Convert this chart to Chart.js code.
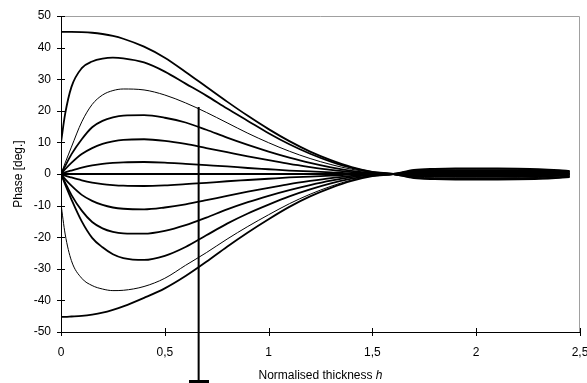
<!DOCTYPE html>
<html>
<head>
<meta charset="utf-8">
<script src="https://cdn.jsdelivr.net/npm/chart.js@4.4.0/dist/chart.umd.min.js"></script>
<style>
  html, body { margin: 0; padding: 0; background: #fff; }
</style>
</head>
<body>
<canvas id="phase-chart" width="587" height="383"></canvas>
<script>
// Phase vs normalised thickness

const hValues = [0, 0.02, 0.05, 0.1, 0.15, 0.2, 0.25, 0.3, 0.4, 0.5, 0.6, 0.7, 0.8, 0.9, 1.0,
  1.1, 1.2, 1.3, 1.4, 1.5, 1.6, 1.7, 1.8, 1.9, 2.0, 2.1, 2.2, 2.3, 2.4, 2.45];

const phaseP45 = [45, 45, 45, 44.9, 44.7, 44.3, 43.7, 42.8, 40.3, 36.8, 32.3, 27.6, 22.9, 18.4, 14.2,
  10.4, 7.1, 4.4, 2.2, 0.7, 0, -1.3, -1.65, -1.75, -1.75, -1.75, -1.7, -1.55, -1.2, -0.95];
const phaseP37 = [10, 19, 27.5, 33.5, 35.6, 36.5, 36.8, 36.6, 35.3, 32.4, 28.6, 24.8, 20.7, 16.8, 12.9,
  9.4, 6.4, 3.9, 1.9, 0.6, 0, -1.15, -1.45, -1.55, -1.55, -1.55, -1.5, -1.35, -1.05, -0.85];
const phaseP27 = [0, 3.5, 8.5, 16.5, 22, 25, 26.4, 26.9, 26.6, 25, 22.5, 19.5, 16.2, 12.9, 9.9,
  7.2, 4.9, 3, 1.5, 0.5, 0, -0.95, -1.2, -1.25, -1.25, -1.25, -1.2, -1.1, -0.85, -0.7];
const phaseP19 = [0, 2.5, 6.2, 11, 14.8, 16.8, 17.9, 18.5, 18.6, 17.8, 16.3, 14, 11.5, 9.2, 7.1,
  5.2, 3.5, 2.1, 1, 0.3, 0, -0.7, -0.85, -0.9, -0.9, -0.9, -0.87, -0.8, -0.6, -0.5];
const phaseP11 = [0, 1.5, 3.5, 6.3, 8.2, 9.5, 10.3, 10.8, 11, 10.5, 9.5, 8.2, 6.9, 5.6, 4.4,
  3.2, 2.2, 1.3, 0.6, 0.2, 0, -0.4, -0.5, -0.55, -0.55, -0.55, -0.53, -0.48, -0.37, -0.3];
const phaseP4 = [0, 0.5, 1.1, 2, 2.7, 3.2, 3.5, 3.7, 3.8, 3.6, 3.2, 2.8, 2.4, 1.9, 1.5,
  1.1, 0.8, 0.5, 0.2, 0.1, 0, -0.15, -0.2, -0.2, -0.2, -0.2, -0.2, -0.18, -0.14, -0.11];
const phase0 = [0, 0, 0, 0, 0, 0, 0, 0, 0, 0, 0, 0, 0, 0, 0,
  0, 0, 0, 0, 0, 0, 0, 0, 0, 0, 0, 0, 0, 0, 0];
const phaseN4 = [0, -0.5, -1.1, -2, -2.7, -3.2, -3.5, -3.7, -3.8, -3.6, -3.2, -2.8, -2.3, -1.9, -1.5,
  -1.1, -0.8, -0.5, -0.2, -0.1, 0, 0.15, 0.2, 0.2, 0.2, 0.2, 0.2, 0.18, 0.14, 0.11];
const phaseN11 = [0, -1.6, -3.7, -6.6, -8.5, -9.8, -10.6, -11, -11.2, -10.6, -9.6, -8.3, -6.9, -5.6, -4.4,
  -3.2, -2.2, -1.3, -0.6, -0.2, 0, 0.4, 0.5, 0.55, 0.55, 0.55, 0.53, 0.48, 0.37, 0.3];
const phaseN19 = [0, -2.7, -6.6, -11.6, -15.2, -17.2, -18.3, -18.8, -18.9, -18, -16.2, -13.8, -11.2, -8.9, -6.9,
  -5.1, -3.5, -2.1, -1, -0.3, 0, 0.7, 0.85, 0.9, 0.9, 0.9, 0.87, 0.8, 0.6, 0.5];
const phaseN27 = [0, -3.3, -8, -15, -20.2, -23.2, -25.4, -26.6, -27.2, -25.9, -23.1, -19.4, -15.7, -12.5, -9.7,
  -7.1, -4.9, -3, -1.5, -0.5, 0, 0.95, 1.2, 1.25, 1.25, 1.25, 1.2, 1.1, 0.85, 0.7];
const phaseN37 = [-9.5, -19, -27.4, -33, -35.3, -36.4, -36.9, -36.8, -35.6, -33, -28.9, -24.9, -20.6, -16.6, -12.9,
  -9.4, -6.4, -3.9, -1.9, -0.6, 0, 1.15, 1.45, 1.55, 1.55, 1.55, 1.5, 1.35, 1.05, 0.85];
const phaseN45 = [-45.2, -45.2, -45.1, -44.9, -44.5, -43.9, -43, -41.9, -39.2, -36.2, -32.3, -27.8, -23, -18.5, -14.3,
  -10.4, -7.1, -4.4, -2.2, -0.7, 0, 1.3, 1.65, 1.75, 1.75, 1.75, 1.7, 1.55, 1.2, 0.95];

// vertical marker line with bar at its foot
const markerH = [0.663, 0.663];
const markerPhase = [21.2, -65.8];

const xTickValues = [0, 0.5, 1, 1.5, 2, 2.5];
const yTickValues = [-50, -40, -30, -20, -10, 0, 10, 20, 30, 40, 50];

const FONT = 'Arial, "Liberation Sans", sans-serif';

function toPoints(xs, ys) {
  return xs.map((x, i) => ({ x: x, y: ys[i] }));
}

function curve(values, width) {
  return {
    data: toPoints(hValues, values),
    borderColor: '#000',
    borderWidth: width,
    pointRadius: 0,
    fill: false,
    cubicInterpolationMode: 'monotone'
  };
}

// grey frame, crossing tick marks, marker foot and the x title (with italic h)
const axisDecor = {
  id: 'axisDecor',
  beforeDatasetsDraw(chart) {
    const { ctx, chartArea: a, scales } = chart;
    ctx.save();
    ctx.strokeStyle = '#a0a0a0';
    ctx.lineWidth = 1;
    ctx.beginPath();
    ctx.moveTo(a.left, a.top + 0.5);
    ctx.lineTo(a.right - 0.5, a.top + 0.5);
    ctx.lineTo(a.right - 0.5, a.bottom);
    ctx.stroke();

    ctx.strokeStyle = '#000';
    ctx.beginPath();
    yTickValues.forEach(v => {
      const py = Math.round(scales.y.getPixelForValue(v)) + 0.5;
      ctx.moveTo(a.left - 4, py);
      ctx.lineTo(a.left + 4, py);
    });
    xTickValues.forEach(v => {
      const px = Math.round(scales.x.getPixelForValue(v)) + 0.5;
      ctx.moveTo(px, a.bottom - 4);
      ctx.lineTo(px, a.bottom + 4);
    });
    ctx.stroke();

    const part1 = 'Normalised thickness ';
    const part2 = 'h';
    ctx.fillStyle = '#000';
    ctx.textBaseline = 'middle';
    ctx.textAlign = 'left';
    ctx.font = '12px ' + FONT;
    const w1 = ctx.measureText(part1).width;
    ctx.font = 'italic 12px ' + FONT;
    const w2 = ctx.measureText(part2).width;
    const startX = (a.left + a.right) / 2 - (w1 + w2) / 2;
    const ty = 376;
    ctx.font = '12px ' + FONT;
    ctx.fillText(part1, startX, ty);
    ctx.font = 'italic 12px ' + FONT;
    ctx.fillText(part2, startX + w1, ty);
    ctx.restore();
  },
  afterDatasetsDraw(chart) {
    const { ctx, scales } = chart;
    const px = scales.x.getPixelForValue(markerH[1]);
    const py = scales.y.getPixelForValue(markerPhase[1]);
    ctx.save();
    ctx.fillStyle = '#000';
    ctx.fillRect(Math.round(px) - 10, Math.round(py) - 2, 20, 4);
    ctx.restore();
  }
};

const datasets = [
  curve(phaseP45, 1.8),
  curve(phaseP37, 1.8),
  curve(phaseP27, 1),
  curve(phaseP19, 1.8),
  curve(phaseP11, 1.8),
  curve(phaseP4, 1.8),
  curve(phase0, 1.8),
  curve(phaseN4, 1.8),
  curve(phaseN11, 1.8),
  curve(phaseN19, 1.8),
  curve(phaseN27, 1.8),
  curve(phaseN37, 1),
  curve(phaseN45, 1.8),
  {
    data: toPoints(markerH, markerPhase),
    borderColor: '#000',
    borderWidth: 2,
    pointRadius: 0,
    fill: false,
    clip: false
  }
];

new Chart(document.getElementById('phase-chart').getContext('2d'), {
  type: 'line',
  data: { datasets: datasets },
  plugins: [axisDecor],
  options: {
    responsive: false,
    animation: false,
    layout: { padding: { left: 0, right: 7, top: 16, bottom: 0 } },
    plugins: {
      legend: { display: false },
      tooltip: { enabled: false }
    },
    scales: {
      x: {
        type: 'linear',
        min: 0,
        max: 2.5,
        grid: { display: false, drawTicks: false },
        border: { display: true, color: '#000', width: 1 },
        ticks: {
          stepSize: 0.5,
          padding: 13,
          color: '#000',
          font: { family: FONT, size: 12 },
          maxRotation: 0,
          callback: v => String(v).replace('.', ',')
        },
        afterFit: scale => {
          scale.height = 51;
          scale.paddingLeft = 0;
          scale.paddingRight = 0;
        }
      },
      y: {
        min: -50,
        max: 50,
        grid: { display: false, drawTicks: false },
        border: { display: true, color: '#000', width: 1 },
        ticks: {
          stepSize: 10,
          padding: 10,
          color: '#000',
          font: { family: FONT, size: 12 }
        },
        title: {
          display: true,
          text: 'Phase [deg.]',
          color: '#000',
          font: { family: FONT, size: 12 },
          padding: { top: 11, bottom: 0 }
        },
        afterFit: scale => {
          scale.width = 61;
          scale.paddingTop = 0;
          scale.paddingBottom = 0;
        }
      }
    }
  }
});
</script>
</body>
</html>
